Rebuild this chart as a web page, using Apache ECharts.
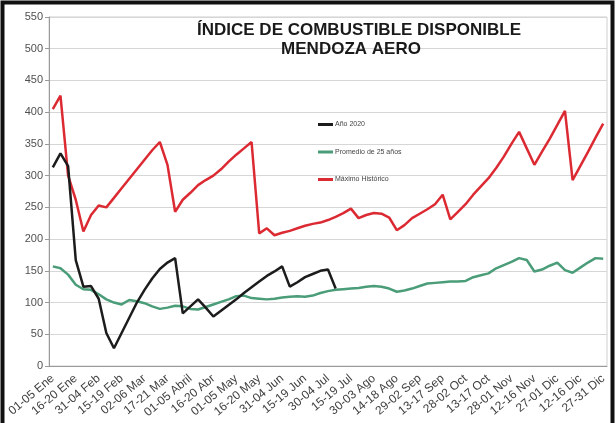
<!DOCTYPE html>
<html>
<head>
<meta charset="utf-8">
<script src="https://cdn.jsdelivr.net/npm/echarts@6/dist/echarts.min.js"></script>
<style>
html,body{margin:0;padding:0;background:#fff;}
#chart{width:616px;height:423px;}
</style>
</head>
<body>
<div id="chart"></div>
<script>
var categories = [
  '01-05 Ene','06-10 Ene','11-15 Ene','16-20 Ene','21-25 Ene','26-30 Ene','31-04 Feb',
  '05-09 Feb','10-14 Feb','15-19 Feb','20-24 Feb','25-01 Mar','02-06 Mar','07-11 Mar',
  '12-16 Mar','17-21 Mar','22-26 Mar','27-31 Mar','01-05 Abril','06-10 Abr','11-15 Abr',
  '16-20 Abr','21-25 Abr','26-30 Abr','01-05 May','06-10 May','11-15 May','16-20 May',
  '21-25 May','26-30 May','31-04 Jun','05-09 Jun','10-14 Jun','15-19 Jun','20-24 Jun',
  '25-29 Jun','30-04 Jul','05-09 Jul','10-14 Jul','15-19 Jul','20-24 Jul','25-29 Jul',
  '30-03 Ago','04-08 Ago','09-13 Ago','14-18 Ago','19-23 Ago','24-28 Ago','29-02 Sep',
  '03-07 Sep','08-12 Sep','13-17 Sep','18-22 Sep','23-27 Sep','28-02 Oct','03-07 Oct',
  '08-12 Oct','13-17 Oct','18-22 Oct','23-27 Oct','28-01 Nov','02-06 Nov','07-11 Nov',
  '12-16 Nov','17-21 Nov','22-26 Nov','27-01 Dic','02-06 Dic','07-11 Dic','12-16 Dic',
  '17-21 Dic','22-26 Dic','27-31 Dic'
];

var ano2020 = [313, 335, 315, 167, 125, 126, 106, 52, 28, 52, 76, 100, 120, 138, 153, 163, 170,
  83, 94, 105, 92, 78, 87, 96, 105, 115, 124, 133, 142, 149, 157, 125, 132, 140, 145, 150, 152, 122];

var promedio25 = [157, 154, 144, 128, 121, 120, 113, 105, 100, 97, 104, 102, 99, 94, 90, 92, 95,
  94, 90, 89, 93, 97, 101, 105, 110, 111, 107, 106, 105, 106, 108, 109, 110, 109, 111, 115, 118,
  120, 121, 122, 123, 125, 126, 125, 122, 117, 119, 122, 126, 130, 131, 132, 133, 133, 134, 140,
  143, 146, 154, 159, 164, 170, 167, 149, 152, 158, 163, 151, 147, 155, 163, 170, 169];

var maximoHistorico = [405, 426, 300, 262, 212, 238, 253, 250, 265, 280, 295, 310, 325, 340, 353,
  317, 243, 262, 273, 285, 293, 300, 310, 322, 333, 343, 353, 209, 217, 206, 210, 213, 217, 221,
  224, 226, 230, 235, 241, 248, 233, 238, 241, 240, 234, 214, 222, 233, 240, 247, 255, 270, 231,
  243, 255, 270, 283, 296, 312, 330, 350, 369, 343, 317, 338, 358, 380, 402, 293, 315, 337, 360, 382];

var seriesNames = ['Año 2020', 'Promedio de 25 años', 'Máximo Histórico'];
var titleLines = ['ÍNDICE DE COMBUSTIBLE DISPONIBLE', 'MENDOZA AERO'];

var chart = echarts.init(document.getElementById('chart'), null, {renderer: 'canvas'});
var font = 'Liberation Sans, Arial, sans-serif';
var titleStyle = {fontFamily: font, fontSize: 17, fontWeight: 'bold', color: '#1a1a1a'};
chart.setOption({
  backgroundColor: '#ffffff',
  animation: false,
  title: [
    {text: titleLines[0], left: 354, top: 17, textAlign: 'center', textStyle: titleStyle},
    {text: titleLines[1], left: 346, top: 36, textAlign: 'center', textStyle: titleStyle}
  ],
  legend: {
    orient: 'vertical',
    left: 313,
    top: 116,
    itemGap: 20.5,
    itemWidth: 15,
    itemHeight: 3,
    icon: 'rect',
    textStyle: {fontFamily: font, fontSize: 7, color: '#444', padding: [0, 0, 0, -3]},
    data: seriesNames
  },
  graphic: [{
    type: 'rect',
    shape: {x: 2.5, y: 2.5, width: 610, height: 440},
    style: {fill: 'none', stroke: '#111', lineWidth: 4},
    silent: true
  }],
  grid: {left: 49, right: 9, top: 17, bottom: 57, show: true, borderColor: '#cfcfcf', borderWidth: 1},
  xAxis: {
    type: 'category',
    data: categories,
    boundaryGap: true,
    axisLine: {lineStyle: {color: '#9a9a9a'}},
    axisTick: {interval: 0, length: 3, lineStyle: {color: '#9a9a9a'}},
    axisLabel: {interval: 2, rotate: 40, fontFamily: font, fontSize: 12, color: '#404040', margin: 11}
  },
  yAxis: {
    type: 'value',
    min: 0,
    max: 550,
    interval: 50,
    axisLine: {show: true, lineStyle: {color: '#9a9a9a'}},
    axisTick: {show: true, length: 4, lineStyle: {color: '#9a9a9a'}},
    axisLabel: {fontFamily: font, fontSize: 11, color: '#505050', margin: 6},
    splitLine: {lineStyle: {color: '#d6d6d6'}}
  },
  series: [
    {name: seriesNames[0], type: 'line', data: ano2020, showSymbol: false, symbol: 'none',
     lineStyle: {color: '#1c1c1c', width: 2.5}, itemStyle: {color: '#1c1c1c'}, z: 4},
    {name: seriesNames[1], type: 'line', data: promedio25, showSymbol: false, symbol: 'none',
     lineStyle: {color: '#4a9d78', width: 2.5}, itemStyle: {color: '#4a9d78'}, z: 3},
    {name: seriesNames[2], type: 'line', data: maximoHistorico, showSymbol: false, symbol: 'none',
     lineStyle: {color: '#dc2a33', width: 2.5}, itemStyle: {color: '#dc2a33'}, z: 2}
  ]
});
</script>
</body>
</html>
